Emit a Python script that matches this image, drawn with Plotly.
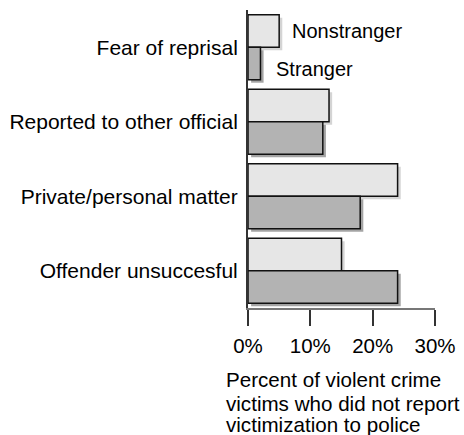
import plotly.graph_objects as go

categories = ["Fear of reprisal", "Reported to other official", "Private/personal matter", "Offender unsuccesful"]
nonstranger = [5, 13, 24, 15]
stranger = [2, 12, 18, 24]
tick_values = [0, 10, 20, 30]
tick_labels = ["0%", "10%", "20%", "30%"]
title_lines = ["Percent of violent crime", "victims who did not report", "victimization to police"]

FONT = "Arial, Liberation Sans, sans-serif"
FS = 21
FS2 = 20
FS3 = 20.6
W = 0.436
SH_X = 0.5
SH_Y = 0.04

fig = go.Figure()
# shadows
fig.add_trace(go.Bar(y=categories, x=nonstranger, orientation="h", base=SH_X, width=W, offset=-W + SH_Y,
                     marker=dict(color="#d4d4d4", line=dict(width=0)), hoverinfo="skip", showlegend=False))
fig.add_trace(go.Bar(y=categories, x=stranger, orientation="h", base=SH_X, width=W, offset=SH_Y,
                     marker=dict(color="#a4a4a4", line=dict(width=0)), hoverinfo="skip", showlegend=False))
# bars
fig.add_trace(go.Bar(y=categories, x=nonstranger, orientation="h", width=W, offset=-W, name="Nonstranger",
                     marker=dict(color="#e6e6e6", line=dict(color="#111111", width=1.5)), showlegend=False))
fig.add_trace(go.Bar(y=categories, x=stranger, orientation="h", width=W, offset=0, name="Stranger",
                     marker=dict(color="#b3b3b3", line=dict(color="#111111", width=1.5)), showlegend=False))

fig.update_layout(
    width=464, height=435,
    margin=dict(l=248, r=29, t=10, b=127),
    barmode="overlay",
    plot_bgcolor="white", paper_bgcolor="white",
    font=dict(family=FONT, size=FS, color="black"),
    xaxis=dict(range=[0, 30], tickmode="array", tickvals=tick_values, ticktext=tick_labels,
               showgrid=False, zeroline=False, automargin=False,
               showline=True, linecolor="#777777", linewidth=1.5,
               ticks="outside", ticklen=16, tickwidth=1.5, tickcolor="#333333", ticklabelstandoff=3,
               tickfont=dict(size=20.5)),
    yaxis=dict(categoryorder="array", categoryarray=categories, range=[3.5, -0.5], showgrid=False,
               zeroline=False, automargin=False, showline=True, linecolor="#333333", linewidth=2, ticks="",
               ticklabelstandoff=4, tickfont=dict(size=FS)),
)

fig.add_annotation(text="Nonstranger", x=0.226, y=0.9295, xref="paper", yref="paper", xanchor="left",
                   yanchor="middle", showarrow=False, font=dict(size=FS2, family=FONT, color="black"))
fig.add_annotation(text="Stranger", x=0.139, y=0.802, xref="paper", yref="paper", xanchor="left",
                   yanchor="middle", showarrow=False, font=dict(size=FS2, family=FONT, color="black"))
for t, y in zip(title_lines, [-0.2416, -0.3188, -0.3926]):
    fig.add_annotation(text=t, x=-0.127, y=y, xref="paper", yref="paper", xanchor="left", yanchor="middle",
                       showarrow=False, font=dict(size=FS3, family=FONT, color="black"))

fig.write_html("out.html", config={"displayModeBar": False},
               post_script="document.body.style.margin='0';document.body.style.overflow='hidden';")
